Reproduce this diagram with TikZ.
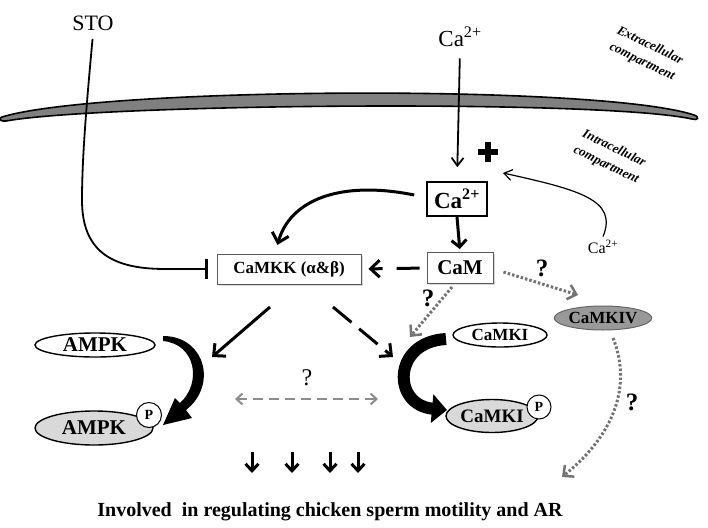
\documentclass[tikz,border=0pt]{standalone}
\usepackage{fontspec}
\setmainfont{Liberation Serif}
\usetikzlibrary{arrows.meta,shapes.geometric,shadows}

\begin{document}
\begin{tikzpicture}[x=1pt,y=-1pt,
        kbox/.style={draw=black!65, line width=0.9pt, fill=white, inner sep=0pt,
                drop shadow={shadow xshift=1.5pt,shadow yshift=-1.5pt,opacity=0.3}},
        kin/.style={ellipse, draw, line width=1.4pt, fill=white, inner sep=0pt},
        phos/.style={circle, draw, line width=1pt, fill=white, inner sep=0pt,
                minimum size=25pt, font=\fontsize{14}{16}\selectfont\bfseries},
        fineline/.style={line width=1.8pt},
        solidarr/.style={line width=3pt, -{Straight Barb[length=9pt,width=17pt]}},
        dotarr/.style={draw=black!55, line width=3pt, dash pattern=on 2.5pt off 2pt,
                -{Straight Barb[length=8pt,width=15pt,line width=2.5pt]}},
        qmark/.style={font=\fontsize{25}{28}\selectfont\bfseries},
        compart/.style={rotate=-26, align=center, font=\fontsize{13}{18}\selectfont\bfseries\itshape}]
        \useasboundingbox (0,0) rectangle (708,527);

        % membrane
        \filldraw[fill=black!50, line width=1.6pt] (2,117) .. controls (100,87) and (600,84) .. (694,115)
                .. controls (700,117) and (698,121) .. (692,119)
                .. controls (600,99) and (100,104) .. (6,121)
                .. controls (0,122) and (-2,118) .. (2,117) -- cycle;
        \node[compart] (extra) at (646,54) {Extracellular\\compartment};
        \node[compart] (intra) at (610,157) {Intracellular\\compartment};

        % signalling nodes
        \node[font=\fontsize{22}{26}\selectfont] (sto) at (93,23) {STO};
        \node[font=\fontsize{23}{27}\selectfont] (caout) at (460,37) {Ca\textsuperscript{2+}};
        \node[draw, line width=1.6pt, fill=white, minimum width=60pt, minimum height=34pt, inner sep=0pt,
                font=\fontsize{23}{27}\selectfont\bfseries] (cain) at (457,199) {Ca\textsuperscript{2+}};
        \node[kbox, minimum width=66pt, minimum height=31pt, font=\fontsize{21}{25}\selectfont\bfseries]
                (cam) at (460,268) {CaM};
        \node[kbox, minimum width=144pt, minimum height=30pt, font=\fontsize{17}{20}\selectfont\bfseries]
                (camkk) at (289,269) {CaMKK (α\&β)};
        \node[font=\fontsize{16}{19}\selectfont] (caside) at (603,247) {Ca\textsuperscript{2+}};

        \node[kin, minimum width=120pt, minimum height=24pt, font=\fontsize{21}{24}\selectfont\bfseries]
                (ampk) at (95,345) {AMPK};
        \node[kin, fill=black!15, minimum width=118pt, minimum height=34pt, font=\fontsize{21}{24}\selectfont\bfseries]
                (ampkp) at (94,428) {AMPK};
        \node[phos] (pa) at (149,415) {P};
        \node[kin, minimum width=94pt, minimum height=24pt, font=\fontsize{17}{20}\selectfont\bfseries]
                (camki) at (500,335) {CaMKI};
        \node[kin, fill=black!15, minimum width=92pt, minimum height=33pt, font=\fontsize{19}{22}\selectfont\bfseries]
                (camkip) at (492,416) {CaMKI};
        \node[phos, minimum size=24pt] (pb) at (539,407) {P};
        \node[kin, fill=black!40, line width=1pt, draw=black!60, minimum width=93pt, minimum height=24pt,
                font=\fontsize{17}{20}\selectfont\bfseries] (camkiv) at (603,318) {CaMKIV};

        % free ends
        \coordinate (plustip) at (503,173);
        \coordinate (kkleft) at (270,307);
        \coordinate (ampktip) at (212,357);
        \coordinate (kkright) at (333,307);
        \coordinate (kitip) at (393,357);
        \coordinate (ivtip) at (578,295);
        \coordinate (kistart) at (452,287);
        \coordinate (kiend) at (410,337);
        \coordinate (ivstart) at (613,338);
        \coordinate (artip) at (562,477);

        % plus sign
        \fill (478,149) rectangle (498,155);
        \fill (485,142) rectangle (491,162);

        % connectors
        \draw[fineline, -{Bar[width=20pt,line width=3pt]}, shorten <=5pt, shorten >=9pt] (sto.south)
                .. controls (86,110) and (82,160) .. (82,200)
                .. controls (82,250) and (110,269) .. (165,269) -- (camkk.west);
        \draw[fineline, -{Straight Barb[length=8pt,width=12pt]}, shorten <=8pt, shorten >=14pt]
                (caout.south) -- (cain.north);
        \draw[line width=1.2pt, -{Straight Barb[length=8pt,width=11pt]}] (caside.north)
                .. controls (618,200) and (580,190) .. (plustip);
        \draw[solidarr, shorten >=9pt] ([xshift=-12pt,yshift=4pt]cain.west)
                .. controls (340,180) and (290,200) .. ([xshift=-14pt]camkk.north);
        \draw[solidarr, -{Straight Barb[length=7pt,width=15pt]}, shorten >=3pt] (cain.south) -- (cam.north);
        \draw[solidarr, dash pattern=on 23pt off 14pt, shorten <=7pt, shorten >=7pt] (cam.west) -- (camkk.east);
        \draw[solidarr] (kkleft) -- (ampktip);
        \draw[solidarr, dash pattern=on 24pt off 10pt] (kkright) -- (kitip);

        \draw[dotarr] (cam.east) ++(10,4) -- (ivtip);
        \draw[dotarr] (kistart) -- (kiend);
        \draw[dotarr] (ivstart) .. controls (630,380) and (620,430) .. (artip);
        \node[qmark] (q1) at (542,268) {?};
        \node[qmark] (q2) at (428,298) {?};
        \node[qmark] (q3) at (632,402) {?};

        % phosphorylation arrows
        \fill (163,336) .. controls (205,336) and (218,385) .. (186,410) -- (192,418) -- (163,425)
                -- (175,398) -- (180,403) .. controls (202,383) and (196,344) .. (163,341) -- cycle;
        \draw[line width=12pt, -{Triangle[length=15pt,width=28pt]}] (446,339)
                .. controls (392,342) and (392,405) .. (447,410);

        % crosstalk
        \draw[black!45, line width=2pt, dash pattern=on 10pt off 6pt,
                {Straight Barb[length=6pt,width=11pt]}-{Straight Barb[length=6pt,width=11pt]}] (235,399) -- (378,399);
        \node[font=\fontsize{24}{28}\selectfont] (q4) at (307,378) {?};

        \foreach \x in {252, 292, 330, 358} {
                \draw[line width=3pt, -{Straight Barb[length=7pt,width=13pt]}] (\x,452) -- (\x,473);
        }
        \node[font=\fontsize{20}{24}\selectfont\bfseries] (outcome) at (330,512)
                {Involved~ in regulating chicken sperm motility and AR};
\end{tikzpicture}
\end{document}
